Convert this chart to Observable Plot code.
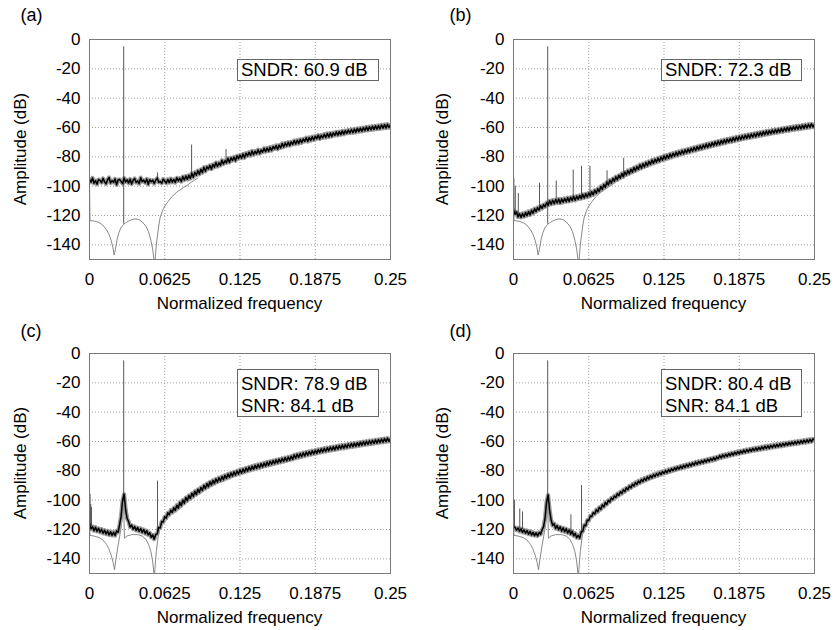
<!DOCTYPE html>
<html><head><meta charset="utf-8">
<script src="https://cdn.jsdelivr.net/npm/d3@7"></script>
<script src="https://cdn.jsdelivr.net/npm/@observablehq/plot@0.6"></script>
<style>
body{margin:0;background:#fff;font-family:"Liberation Sans",Arial,Helvetica,sans-serif;}
#wrap{position:relative;width:835px;height:630px;overflow:hidden;background:#fff;}
.lbl{position:absolute;line-height:1;white-space:nowrap;color:#000;font-size:17px;}
.box{position:absolute;border:1px solid #666;background:#fff;box-sizing:border-box;font-size:18.5px;white-space:nowrap;color:#000;padding-left:3px;}
</style></head><body><div id="wrap"></div>
<script>
// ---------- axis ticks ----------
const xTicks = [0, 0.0625, 0.125, 0.1875, 0.25];
const xTickLabels = ["0", "0.0625", "0.125", "0.1875", "0.25"];
const yTicks = [0, -20, -40, -60, -80, -100, -120, -140];
const yTickLabels = ["0", "-20", "-40", "-60", "-80", "-100", "-120", "-140"];

// FFT bins of the measured spectra: 201 bins from 0 to 0.25
const binStep = 0.00125;
const freqBins = d3.range(201).map(i => i * binStep);

// ---------- measured spectra (dB), one value per bin ----------
const measA = [
 -95.3,-97.3,-94.4,-98.0,-96.2,-98.7,-95.5,-96.1,-97.6,-94.7,
 -97.0,-98.4,-95.6,-94.1,-97.8,-96.3,-97.4,-95.0,-99.1,-95.8,
 -95.4,-96.8,-98.2,-94.5,-97.1,-95.7,-97.9,-95.2,-98.5,-96.0,
 -94.8,-97.5,-96.4,-98.3,-94.2,-96.9,-95.9,-97.7,-95.1,-98.8,
 -95.6,-97.0,-95.9,-98.2,-96.0,-94.6,-97.4,-96.8,-98.0,-95.2,
 -96.5,-97.9,-95.4,-97.6,-94.9,-97.3,-95.4,-97.5,-94.3,-96.4,
 -94.6,-96.9,-93.5,-95.8,-93.1,-95.4,-92.6,-94.8,-91.2,-93.9,
 -90.6,-92.5,-89.4,-91.9,-88.5,-90.8,-87.1,-89.9,-86.7,-88.3,
 -85.8,-88.4,-85.2,-87.1,-83.9,-86.6,-84.0,-85.9,-82.3,-84.9,
 -82.7,-84.1,-81.0,-83.8,-80.6,-82.5,-80.1,-82.7,-79.3,-81.2,
 -78.8,-80.9,-78.1,-80.6,-77.5,-79.4,-76.9,-79.1,-76.0,-78.6,
 -76.2,-77.9,-75.1,-77.8,-75.3,-76.9,-74.2,-76.5,-74.0,-76.1,
 -73.4,-75.7,-72.9,-74.6,-72.3,-74.8,-72.0,-73.9,-70.9,-73.3,
 -70.6,-72.6,-70.0,-72.4,-69.8,-71.6,-68.9,-71.3,-68.7,-70.9,
 -68.1,-70.4,-67.8,-69.5,-67.0,-69.6,-66.8,-68.9,-66.3,-68.5,
 -65.9,-67.7,-65.2,-67.9,-65.3,-67.1,-64.6,-66.8,-64.1,-66.5,
 -63.8,-66.1,-63.6,-65.4,-63.0,-65.3,-62.8,-64.9,-62.3,-64.6,
 -62.1,-64.0,-61.7,-63.8,-61.4,-63.6,-61.0,-63.3,-60.6,-62.8,
 -60.4,-62.6,-60.1,-62.2,-59.6,-62.0,-59.5,-61.6,-59.1,-61.4,
 -58.9,-61.1,-58.6,-60.9,-58.3,-60.5,-58.0,-60.4,-57.8,-60.0,
 -58.2];
const measB = [
 -116.5,-119.2,-117.6,-121.0,-118.9,-121.3,-118.6,-120.8,-118.0,-120.1,
 -117.3,-119.6,-116.4,-118.5,-115.3,-117.4,-114.6,-116.3,-113.4,-115.2,
 -112.6,-114.1,-111.3,-113.0,-110.0,-112.4,-109.6,-111.9,-109.2,-111.5,
 -108.8,-111.6,-108.7,-111.0,-108.4,-110.6,-107.9,-110.4,-107.6,-109.8,
 -107.1,-109.6,-106.8,-108.9,-106.3,-108.5,-105.6,-108.0,-105.2,-107.4,
 -104.6,-106.7,-103.8,-105.9,-102.7,-104.8,-101.8,-103.7,-100.2,-102.3,
 -98.8,-100.9,-97.3,-99.2,-95.9,-98.0,-94.8,-96.7,-93.6,-95.7,
 -92.6,-94.5,-91.3,-93.6,-90.4,-92.3,-89.3,-91.5,-88.4,-90.5,
 -87.3,-89.6,-86.6,-88.5,-85.4,-87.8,-84.7,-86.9,-83.8,-86.1,
 -83.1,-85.2,-82.2,-84.5,-81.6,-83.7,-80.8,-83.1,-80.1,-82.3,
 -79.3,-81.7,-78.8,-81.0,-78.0,-80.3,-77.5,-79.6,-76.8,-79.2,
 -76.3,-78.4,-75.7,-78.0,-75.2,-77.3,-74.6,-76.9,-74.1,-76.2,
 -73.5,-75.8,-73.0,-75.1,-72.4,-74.7,-71.9,-74.0,-71.3,-73.6,
 -70.9,-73.0,-70.3,-72.5,-69.8,-72.0,-69.3,-71.6,-68.8,-71.0,
 -68.3,-70.6,-67.9,-70.0,-67.4,-69.7,-66.9,-69.2,-66.5,-68.7,
 -66.0,-68.3,-65.6,-67.8,-65.2,-67.4,-64.8,-67.1,-64.4,-66.6,
 -64.0,-66.3,-63.6,-65.8,-63.2,-65.5,-62.8,-65.0,-62.4,-64.7,
 -62.1,-64.3,-61.7,-63.9,-61.3,-63.6,-61.0,-63.2,-60.6,-62.9,
 -60.3,-62.5,-59.9,-62.2,-59.6,-61.8,-59.3,-61.5,-59.0,-61.2,
 -58.7,-60.9,-58.4,-60.6,-58.1,-60.3,-57.8,-60.0,-57.5,-59.7,
 -57.9];
const measC = [
 -116.0,-119.6,-118.0,-120.8,-118.4,-121.3,-119.2,-121.9,-119.8,-122.6,
 -120.5,-123.1,-121.0,-123.7,-121.5,-124.0,-121.9,-124.1,-121.0,-121.9,
 -116.8,-111.0,-100.0,-96.0,-106.5,-112.5,-114.6,-118.3,-117.0,-119.8,
 -118.0,-120.6,-118.7,-121.3,-119.3,-122.0,-120.0,-122.8,-120.8,-123.7,
 -122.2,-125.3,-123.7,-126.6,-123.4,-123.0,-118.7,-118.9,-114.5,-114.9,
 -111.2,-112.3,-108.6,-109.9,-106.8,-108.4,-105.2,-107.1,-103.4,-105.5,
 -101.5,-103.8,-99.9,-102.1,-98.2,-100.4,-96.8,-98.9,-95.3,-97.5,
 -93.9,-96.2,-92.6,-94.8,-91.3,-93.4,-89.9,-92.1,-88.7,-90.9,
 -87.5,-89.7,-86.5,-88.7,-85.5,-87.7,-84.7,-86.9,-83.8,-86.1,
 -83.0,-85.2,-82.2,-84.4,-81.4,-83.6,-80.7,-82.9,-80.0,-82.2,
 -79.3,-81.6,-78.7,-80.9,-78.0,-80.2,-77.4,-79.6,-76.8,-79.0,
 -76.2,-78.4,-75.7,-77.9,-75.1,-77.3,-74.6,-76.8,-74.0,-76.3,
 -73.5,-75.7,-73.0,-75.2,-72.5,-74.7,-72.0,-74.2,-71.5,-73.7,
 -71.0,-73.2,-70.5,-72.7,-70.0,-72.2,-69.1,-71.4,-68.6,-70.9,
 -68.2,-70.4,-67.7,-69.9,-67.2,-69.4,-66.8,-69.0,-66.3,-68.5,
 -65.9,-68.1,-65.4,-67.6,-65.0,-67.2,-64.6,-66.8,-64.2,-66.4,
 -63.8,-66.0,-63.5,-65.7,-63.1,-65.3,-62.7,-64.9,-62.4,-64.6,
 -62.1,-64.3,-61.7,-63.9,-61.4,-63.6,-61.1,-63.3,-60.8,-63.0,
 -60.4,-62.6,-60.1,-62.3,-59.8,-62.0,-59.5,-61.7,-59.2,-61.4,
 -58.9,-61.1,-58.6,-60.8,-58.3,-60.5,-58.0,-60.2,-57.7,-59.9,
 -58.2];
const measD = [
 -118.0,-118.6,-120.4,-119.0,-121.2,-119.5,-122.0,-120.2,-122.5,-120.7,
 -123.2,-121.3,-123.8,-121.9,-124.2,-122.3,-124.4,-122.0,-123.3,-120.2,
 -118.0,-112.0,-101.0,-96.5,-107.0,-113.5,-117.2,-116.0,-119.3,-117.4,
 -120.1,-118.2,-121.0,-118.9,-121.6,-119.5,-122.4,-120.3,-123.2,-121.2,
 -124.3,-122.6,-125.6,-124.0,-125.9,-121.6,-121.4,-117.0,-117.4,-113.6,
 -113.9,-110.8,-111.2,-108.5,-109.4,-106.5,-107.9,-104.9,-106.3,-103.2,
 -104.6,-101.6,-102.9,-100.1,-101.2,-98.5,-99.6,-97.1,-98.2,-95.6,
 -96.8,-94.3,-95.5,-92.9,-94.2,-91.6,-92.8,-90.3,-91.6,-89.1,
 -90.4,-87.9,-89.3,-86.9,-88.3,-85.9,-87.3,-85.0,-86.5,-84.1,
 -85.6,-83.3,-84.8,-82.5,-84.0,-81.8,-83.3,-81.1,-82.6,-80.4,
 -81.9,-79.8,-81.3,-79.1,-80.6,-78.5,-80.0,-77.9,-79.4,-77.3,
 -78.8,-76.7,-78.3,-76.2,-77.7,-75.6,-77.2,-75.1,-76.7,-74.6,
 -76.1,-74.0,-75.6,-73.5,-75.1,-73.0,-74.6,-72.5,-74.1,-72.0,
 -73.6,-71.5,-73.1,-71.0,-72.6,-70.5,-71.7,-69.6,-71.2,-69.1,
 -70.7,-68.7,-70.2,-68.2,-69.7,-67.7,-69.3,-67.3,-68.8,-66.8,
 -68.4,-66.4,-67.9,-65.9,-67.5,-65.5,-67.1,-65.1,-66.7,-64.7,
 -66.3,-64.3,-66.0,-64.0,-65.6,-63.6,-65.2,-63.2,-64.9,-62.9,
 -64.6,-62.6,-64.2,-62.2,-63.9,-61.9,-63.6,-61.6,-63.3,-61.3,
 -62.9,-60.9,-62.6,-60.6,-62.3,-60.3,-62.0,-60.0,-61.7,-59.7,
 -61.4,-59.4,-61.1,-59.1,-60.8,-58.8,-60.5,-58.5,-60.2,-58.2,
 -58.9];

// ---------- theoretical (thin gray) curves ----------
const theoryABFreq = [0,0.0004,0.004,0.008,0.011,0.014,0.016,0.018,0.0195,0.0205,
 0.0215,0.023,0.0245,0.026,0.0283,0.030,0.032,0.035,0.038,0.041,
 0.044,0.047,0.049,0.051,0.0525,0.0535,0.0538,0.0545,0.0555,0.0575,
 0.0588,0.0615,0.0643,0.068,0.0726,0.077,0.081,0.085,0.09];
const theoryABdB = [-97,-123.5,-123.8,-124.8,-126.5,-129.5,-132.5,-137,-142,-147,
 -143,-136,-131.5,-128.5,-126,-125,-124,-122.8,-122.3,-122.8,
 -124.5,-127.5,-131,-137,-143,-150,-153,-150,-140,-127,
 -121,-115,-111.5,-107.5,-104,-101.5,-99.5,-97,-94.5];
const theoryCDFreq = [0,0.0004,0.004,0.008,0.011,0.014,0.016,0.018,0.0195,0.0208,
 0.022,0.0235,0.025,0.026,0.027,0.0278,0.0283,0.029,0.031,0.035,
 0.04,0.044,0.047,0.049,0.051,0.0525,0.0535,0.0538,0.0545,0.0555,
 0.057,0.0585,0.06];
const theoryCDdB = [-98,-124,-124.5,-125.5,-127,-130,-133,-137.5,-142,-147.5,
 -140,-132,-125,-120,-113,-100,-100,-126,-124.5,-123.5,
 -123.5,-124.5,-127,-130,-135,-142,-150,-153,-145,-135,
 -125,-119,-116];

// ---------- tones / spurs (frequency, top dB, base dB) ----------
const spurFreqA = [0.0284, 0.0565, 0.0848, 0.1134];
const spurTopA  = [-5, -91, -72, -75];
const spurBaseA = [-126, -96, -93, -83];
const spurFreqB = [0.0284, 0.0003, 0.0015, 0.004, 0.0216, 0.0355, 0.0496, 0.0565, 0.0635, 0.0777, 0.0915];
const spurTopB  = [-5, -95, -100, -105, -98, -96.5, -89, -86.5, -86.5, -89.5, -81];
const spurBaseB = [-126, -118, -119, -120, -115, -110, -108, -107.5, -106, -99, -92];
const spurFreqC = [0.0284, 0.0005, 0.0011, 0.0016, 0.0565];
const spurTopC  = [-5, -96, -103, -105, -87];
const spurBaseC = [-101, -117, -118, -118, -123];
const spurFreqD = [0.0284, 0.0008, 0.0052, 0.0075, 0.0477, 0.0565];
const spurTopD  = [-5, -100, -106, -108, -110, -90];
const spurBaseD = [-101, -118, -120, -120, -122, -123];

// ---------- texts ----------
const panelTags = ["(a)", "(b)", "(c)", "(d)"];
const boxTexts = [["SNDR: 60.9 dB"], ["SNDR: 72.3 dB"], ["SNDR: 78.9 dB", "SNR: 84.1 dB"], ["SNDR: 80.4 dB", "SNR: 84.1 dB"]];
const xTitle = "Normalized frequency";
const yTitle = "Amplitude (dB)";

const FONT = '"Liberation Sans", Arial, Helvetica, sans-serif';

const panels = [
  {meas: measA, thF: theoryABFreq, thD: theoryABdB, sF: spurFreqA, sT: spurTopA, sB: spurBaseA, left: 0,   top: 0,   ml: 89, mr: 27},
  {meas: measB, thF: theoryABFreq, thD: theoryABdB, sF: spurFreqB, sT: spurTopB, sB: spurBaseB, left: 417, top: 0,   ml: 96, mr: 20},
  {meas: measC, thF: theoryCDFreq, thD: theoryCDdB, sF: spurFreqC, sT: spurTopC, sB: spurBaseC, left: 0,   top: 314, ml: 89, mr: 27},
  {meas: measD, thF: theoryCDFreq, thD: theoryCDdB, sF: spurFreqD, sT: spurTopD, sB: spurBaseD, left: 417, top: 314, ml: 96, mr: 20}
];

const wrap = document.getElementById("wrap");

function addLabel(text, left, top, size, extra) {
  const d = document.createElement("div");
  d.className = "lbl";
  d.textContent = text;
  d.style.left = left + "px";
  d.style.top = top + "px";
  d.style.fontSize = size + "px";
  if (extra) Object.assign(d.style, extra);
  wrap.appendChild(d);
  return d;
}

panels.forEach((p, k) => {
  const trace = freqBins.map((f, i) => ({f, db: p.meas[i]}));
  const theory = p.thF.map((f, i) => ({f, db: p.thD[i]}));
  const spurs = p.sF.map((f, i) => ({f, top: p.sT[i], base: p.sB[i]}));
  const chart = Plot.plot({
    width: 417, height: 300,
    marginLeft: p.ml, marginRight: p.mr, marginTop: 39, marginBottom: 41,
    style: {fontFamily: FONT, fontSize: "17px", background: "white", overflow: "visible", color: "#000"},
    x: {domain: [0, 0.25]},
    y: {domain: [-150, 0]},
    marks: [
      Plot.gridX(xTicks, {stroke: "#8a8a8a", strokeOpacity: 1, strokeWidth: 0.8, strokeDasharray: "1,2"}),
      Plot.gridY(yTicks, {stroke: "#8a8a8a", strokeOpacity: 1, strokeWidth: 0.8, strokeDasharray: "1,2"}),
      Plot.line(theory, {x: "f", y: "db", stroke: "#7a7a7a", strokeWidth: 0.9, clip: true}),
      Plot.line(trace, {x: "f", y: "db", stroke: "#999", strokeWidth: 4.2, clip: true}),
      Plot.ruleX(spurs, {x: "f", y1: "base", y2: "top", stroke: "#444", strokeWidth: 0.9, clip: true}),
      Plot.line(trace, {x: "f", y: "db", stroke: "#000", strokeWidth: 1.5, clip: true}),
      Plot.frame({stroke: "#7a7a7a", strokeWidth: 1}),
      Plot.axisX(xTicks, {tickSize: 0, tickPadding: 13, fontSize: 17, label: null,
        tickFormat: d => xTickLabels[xTicks.indexOf(d)]}),
      Plot.axisY(yTicks, {tickSize: 0, tickPadding: 9, fontSize: 17, label: null,
        tickFormat: d => yTickLabels[yTicks.indexOf(d)]})
    ]
  });
  chart.style.position = "absolute";
  chart.style.left = p.left + "px";
  chart.style.top = p.top + "px";
  wrap.appendChild(chart);

  const frameL = p.left + p.ml, frameR = p.left + 417 - p.mr;
  const cx = (frameL + frameR) / 2;
  const dy = (k >= 2) ? 313.5 : 0;

  addLabel(panelTags[k], (k % 2 ? p.left + 32.5 : 20.5), 6 + (k >= 2 ? 316.4 : 0), 18);
  addLabel(xTitle, cx, 295.4 + dy, 17, {transform: "translateX(-50%)"});
  const ycx = (k % 2) ? p.left + 24.5 : 20;
  addLabel(yTitle, ycx, 149 + dy, 17, {transform: "translate(-50%,-50%) rotate(-90deg)", transformOrigin: "50% 50%"});

  const lines = boxTexts[k];
  const b = document.createElement("div");
  b.className = "box";
  b.style.left = (frameR - 153) + "px";
  b.style.top = (59 + (k >= 2 ? 310 : 0)) + "px";
  b.style.width = (k % 2 ? 141 : 142) + "px";
  if (lines.length === 1) {
    b.style.height = "22px"; b.style.lineHeight = "19px"; b.style.paddingTop = "0px";
  } else {
    b.style.height = "48px"; b.style.lineHeight = "21.7px"; b.style.paddingTop = "3px";
  }
  lines.forEach(t => { const s = document.createElement("div"); s.textContent = t; b.appendChild(s); });
  wrap.appendChild(b);
});
</script></body></html>
